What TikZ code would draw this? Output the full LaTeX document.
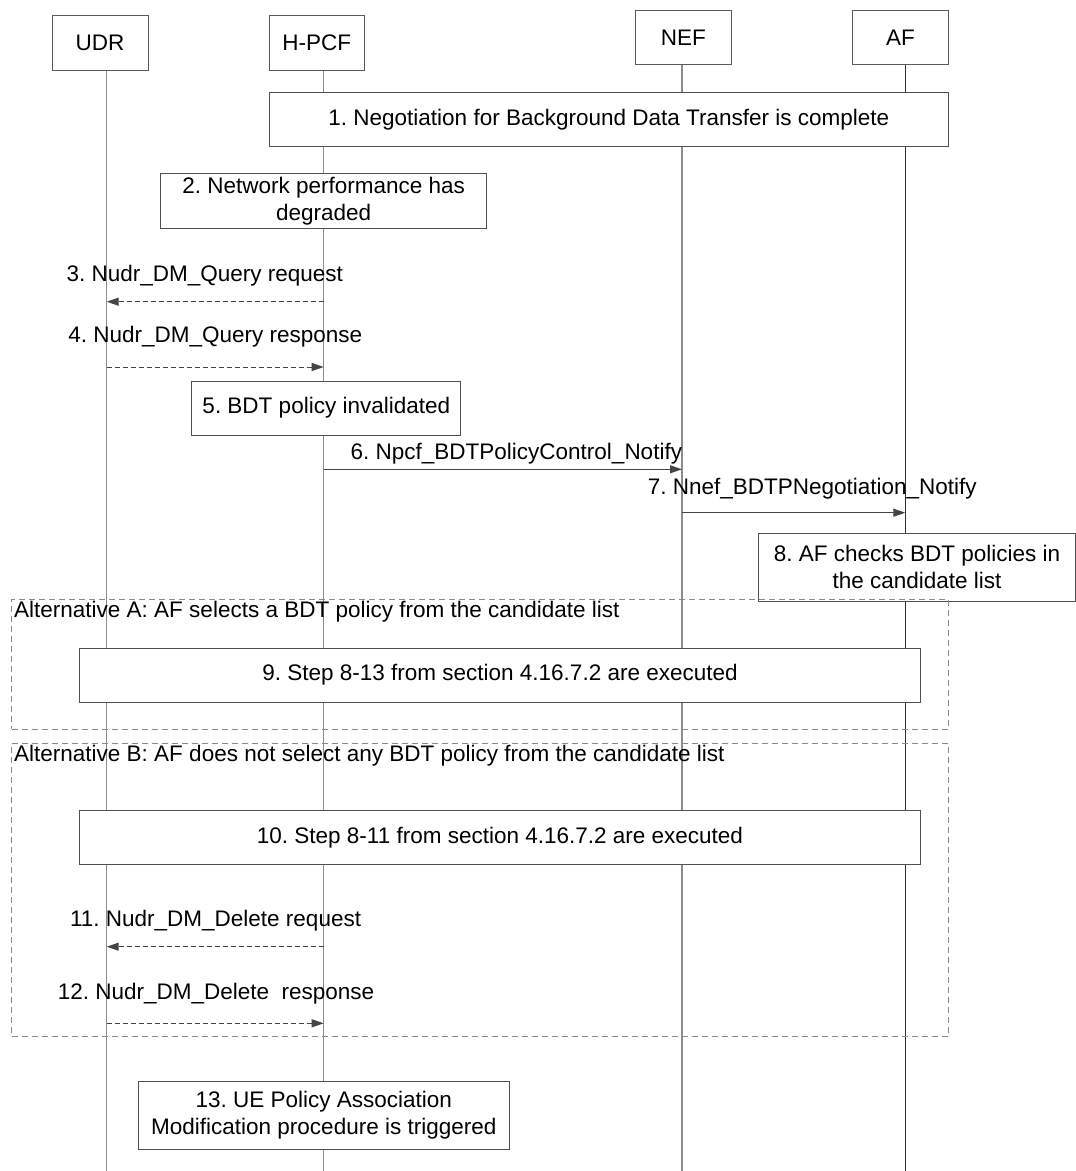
\documentclass[tikz,border=0pt]{standalone}
\usepackage{fontspec}
\setmainfont{Liberation Sans}
\usetikzlibrary{arrows.meta}
\definecolor{hd}{HTML}{5A5A5A}
\definecolor{bd}{HTML}{505050}
\definecolor{lg}{HTML}{8C8C8C}
\definecolor{ar}{HTML}{454545}
\definecolor{fr}{HTML}{8A8A8A}
\begin{document}
\begin{tikzpicture}[x=1pt,y=-1pt,
  every node/.style={font=\fontsize{22.5}{27}\selectfont\frenchspacing, inner sep=0pt, text=black},
  head/.style={draw=hd, fill=white, line width=1pt},
  boxx/.style={draw=bd, fill=white, line width=1pt, align=center},
  life/.style={draw=lg, line width=1.3pt},
  lifeaf/.style={draw=black!80, line width=1pt},
  msg/.style={draw=ar, line width=1pt, -{Triangle[length=12pt,width=8pt]}},
  dmsg/.style={msg, dash pattern=on 5pt off 3pt},
  frame/.style={draw=fr, line width=1pt, dash pattern=on 6pt off 4pt},
  lbl/.style={anchor=base}
]
\useasboundingbox (0,0) rectangle (1076,1171);
\fill[white] (0,0) rectangle (1076,1171);

% heads
\node[head, minimum width=96pt, minimum height=54.5pt] (udr) at (100,43.2) {UDR};
\node[head, minimum width=95pt, minimum height=54.5pt] (hpcf) at (316.8,43.2) {H-PCF};
\node[head, minimum width=95.4pt, minimum height=54.5pt] (nef) at (683.4,37.7) {NEF};
\node[head, minimum width=95.5pt, minimum height=54.5pt] (af) at (900.5,37.7) {AF};

% lifelines
\coordinate (Lu) at (106.7,1171);
\coordinate (Lh) at (323.7,1171);
\coordinate (Ln) at (682,1171);
\coordinate (La) at (905.3,1171);
\draw[life] (udr.south -| Lu) -- (Lu);
\draw[life] (hpcf.south -| Lh) -- (Lh);
\draw[life] (nef.south -| Ln) -- (Ln);
\draw[lifeaf] (af.south -| La) -- (La);

% boxes
\node[boxx, minimum width=679pt, minimum height=54.4pt] (b1) at (608.8,119.5) {1. Negotiation for Background Data Transfer is complete};
\node[boxx, minimum width=325.8pt, minimum height=55pt] (b2) at (323.7,200.8) {2. Network performance has\\degraded};
\node[boxx, minimum width=269pt, minimum height=54pt] (b5) at (326.3,408) {5. BDT policy invalidated};
\node[boxx, minimum width=317pt, minimum height=68.5pt] (b8) at (917,567.3) {8. AF checks BDT policies in\\the candidate list};
\node[boxx, minimum width=841.4pt, minimum height=54pt] (b9) at (500,675) {9. Step 8-13 from section 4.16.7.2 are executed};
\node[boxx, minimum width=841.4pt, minimum height=54pt] (b10) at (500,837.7) {10. Step 8-11 from section 4.16.7.2 are executed};
\node[boxx, minimum width=371.6pt, minimum height=67.6pt] (b13) at (323.8,1115.5) {13. UE Policy Association\\Modification procedure is triggered};

% frames
\node[frame, minimum width=936.6pt, minimum height=130pt] (altA) at (480,664) {};
\node[frame, minimum width=936.6pt, minimum height=293pt] (altB) at (480,889.5) {};
\node[anchor=base west] (altAl) at (14,617.5) {Alternative A: AF selects a BDT policy from the candidate list};
\node[anchor=base west] (altBl) at (14,761.5) {Alternative B: AF does not select any BDT policy from the candidate list};

% messages
\coordinate (y3) at (0,301.7);
\coordinate (y4) at (0,367);
\coordinate (y6) at (0,469.3);
\coordinate (y7) at (0,512.7);
\coordinate (y11) at (0,946.7);
\coordinate (y12) at (0,1023.3);
\draw[dmsg] (Lh |- y3) -- (Lu |- y3);
\draw[dmsg] (Lu |- y4) -- (Lh |- y4);
\draw[msg] (Lh |- y6) -- (Ln |- y6);
\draw[msg] (Ln |- y7) -- (La |- y7);
\draw[dmsg] (Lh |- y11) -- (Lu |- y11);
\draw[dmsg] (Lu |- y12) -- (Lh |- y12);

\node[lbl] (t3) at (204.7,281.2) {3. Nudr\_DM\_Query request};
\node[lbl] (t4) at (215.2,342.9) {4. Nudr\_DM\_Query response};
\node[anchor=base west] (t6) at (350.5,459.6) {6. Npcf\_BDTPolicyControl\_Notify};
\node[anchor=base east] (t7) at (977,494) {7. Nnef\_BDTPNegotiation\_Notify};
\node[lbl] (t11) at (215.6,926.2) {11. Nudr\_DM\_Delete request};
\node[lbl] (t12) at (216,999.6) {12. Nudr\_DM\_Delete\ \ response};
\end{tikzpicture}
\end{document}
